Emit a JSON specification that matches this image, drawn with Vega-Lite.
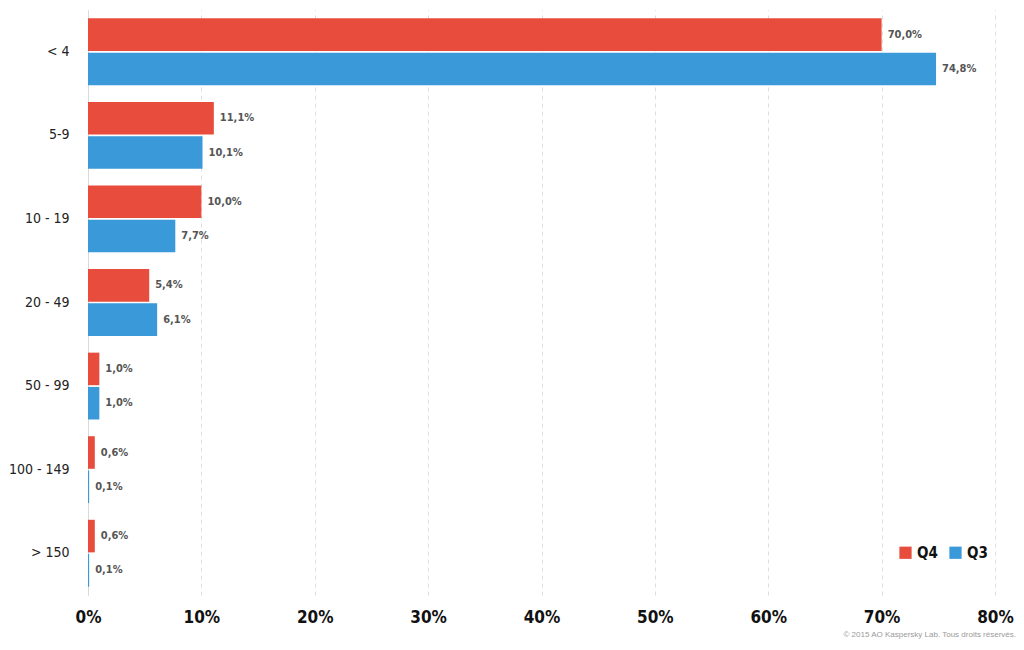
{
  "$schema": "https://vega.github.io/schema/vega-lite/v6.json",
  "width": 907,
  "height": 585,
  "autosize": {"type": "none"},
  "padding": {"left": 88, "top": 10, "right": 29, "bottom": 55},
  "background": "white",
  "title": {
    "text": "© 2015 AO Kaspersky Lab. Tous droits réservés.",
    "orient": "bottom",
    "anchor": "end",
    "frame": "group",
    "fontSize": 8,
    "fontWeight": "normal",
    "font": "Liberation Sans",
    "color": "#9a9a9a",
    "offset": 6,
    "dx": 21
  },
  "data": {
    "values": [
      {"group": "< 4", "quarter": "Q4", "share": 0.700},
      {"group": "< 4", "quarter": "Q3", "share": 0.748},
      {"group": "5-9", "quarter": "Q4", "share": 0.111},
      {"group": "5-9", "quarter": "Q3", "share": 0.101},
      {"group": "10 - 19", "quarter": "Q4", "share": 0.100},
      {"group": "10 - 19", "quarter": "Q3", "share": 0.077},
      {"group": "20 - 49", "quarter": "Q4", "share": 0.054},
      {"group": "20 - 49", "quarter": "Q3", "share": 0.061},
      {"group": "50 - 99", "quarter": "Q4", "share": 0.010},
      {"group": "50 - 99", "quarter": "Q3", "share": 0.010},
      {"group": "100 - 149", "quarter": "Q4", "share": 0.006},
      {"group": "100 - 149", "quarter": "Q3", "share": 0.001},
      {"group": "> 150", "quarter": "Q4", "share": 0.006},
      {"group": "> 150", "quarter": "Q3", "share": 0.001}
    ]
  },
  "encoding": {
    "y": {
      "field": "group",
      "type": "nominal",
      "sort": ["< 4", "5-9", "10 - 19", "20 - 49", "50 - 99", "100 - 149", "> 150"],
      "title": null,
      "scale": {"paddingInner": 0.2, "paddingOuter": 0.1},
      "axis": {
        "ticks": false,
        "domain": true,
        "domainColor": "#d9d9d9",
        "labelPadding": 19,
        "labelFont": "DejaVu Sans Condensed, Roboto, sans-serif",
        "labelFontSize": 14,
        "labelColor": "#222222",
        "grid": false
      }
    },
    "yOffset": {
      "field": "quarter",
      "type": "nominal",
      "sort": ["Q4", "Q3"],
      "scale": {"paddingInner": 0.05}
    },
    "x": {
      "field": "share",
      "type": "quantitative",
      "title": null,
      "scale": {"domain": [0, 0.8], "nice": false},
      "axis": {
        "format": ".0%",
        "values": [0, 0.1, 0.2, 0.3, 0.4, 0.5, 0.6, 0.7, 0.8],
        "domain": false,
        "ticks": false,
        "grid": true,
        "gridDash": [4, 4],
        "gridColor": "#dddddd",
        "labelFlush": false,
        "labelPadding": 14,
        "labelFont": "DejaVu Sans Condensed, Roboto, sans-serif",
        "labelFontWeight": "bold",
        "labelFontSize": 17,
        "labelColor": "#111111"
      }
    }
  },
  "layer": [
    {
      "mark": {"type": "bar"},
      "encoding": {
        "color": {
          "field": "quarter",
          "type": "nominal",
          "sort": ["Q4", "Q3"],
          "scale": {"domain": ["Q4", "Q3"], "range": ["#e84c3d", "#3a99d9"]},
          "legend": {
            "title": null,
            "orient": "none",
            "legendX": 810,
            "legendY": 535,
            "direction": "horizontal",
            "symbolType": "square",
            "symbolSize": 150,
            "symbolStrokeWidth": 0,
            "labelFont": "DejaVu Sans Condensed, Roboto, sans-serif",
            "labelFontWeight": "bold",
            "labelFontSize": 15,
            "labelColor": "#111111",
            "columnPadding": 10
          }
        }
      }
    },
    {
      "mark": {
        "type": "text",
        "align": "left",
        "baseline": "middle",
        "dx": 6,
        "font": "DejaVu Sans Condensed, Roboto, sans-serif",
        "fontWeight": "bold",
        "fontSize": 11,
        "color": "#555555"
      },
      "encoding": {
        "text": {"field": "share", "type": "quantitative", "format": ".1%"}
      }
    }
  ],
  "config": {
    "view": {"stroke": null},
    "locale": {
      "number": {
        "decimal": ",",
        "thousands": " ",
        "grouping": [3],
        "currency": ["", " €"]
      }
    }
  }
}
